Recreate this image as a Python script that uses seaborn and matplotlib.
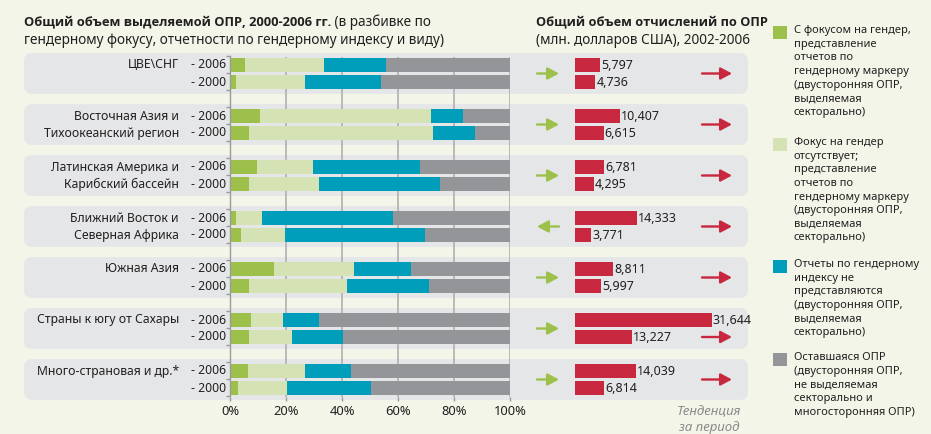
import numpy as np
import pandas as pd
import seaborn as sns
import matplotlib.pyplot as plt
from matplotlib.patches import FancyBboxPatch, Rectangle

sns.set_style("white")
plt.rcParams["font.family"] = ["Noto Sans", "DejaVu Sans"]
BOLD_FAMILY = ["Open Sans", "Noto Sans", "DejaVu Sans"]

# ---- data -------------------------------------------------------------
region_line1 = ["ЦВЕ\\СНГ", "Восточная Азия и", "Латинская Америка и",
                "Ближний Восток и", "Южная Азия", "Страны к югу от Сахары",
                "Много-страновая и др.*"]
region_line2 = ["", "Тихоокеанский регион", "Карибский бассейн",
                "Северная Африка", "", "", ""]
years = ["2006", "2000"]

# shares of allocable ODA, % (gender focus / no focus / not reported)
gender_focus_2006 = [5.2, 10.7, 9.8, 2.0, 15.7, 7.6, 6.3]
gender_focus_2000 = [2.0, 6.7, 6.7, 3.8, 6.9, 6.9, 2.7]
no_focus_2006 = [28.5, 61.1, 19.7, 9.4, 28.5, 11.4, 20.5]
no_focus_2000 = [24.7, 65.9, 25.2, 15.8, 34.9, 15.4, 17.5]
not_reported_2006 = [21.9, 11.5, 38.4, 46.7, 20.3, 12.9, 16.4]
not_reported_2000 = [27.1, 15.0, 43.0, 50.0, 29.4, 18.2, 30.0]

# total ODA disbursements, USD mn
totals_2006 = [5797, 10407, 6781, 14333, 8811, 31644, 14039]
totals_2000 = [4736, 6615, 4295, 3771, 5997, 13227, 6814]

pct_ticks = [0, 20, 40, 60, 80, 100]
pct_tick_labels = ["0%", "20%", "40%", "60%", "80%", "100%"]

legend_labels = [
    "С фокусом на гендер,\nпредставление\nотчетов по\nгендерному маркеру\n(двусторонняя ОПР,\nвыделяемая\nсекторально)",
    "Фокус на гендер\nотсутствует;\nпредставление\nотчетов по\nгендерному маркеру\n(двусторонняя ОПР,\nвыделяемая\nсекторально)",
    "Отчеты по гендерному\nиндексу не\nпредставляются\n(двусторонняя ОПР,\nвыделяемая\nсекторально)",
    "Оставшаяся ОПР\n(двусторонняя ОПР,\nне выделяемая\nсекторально и\nмногосторонняя ОПР)",
]

# ---- style ------------------------------------------------------------
BG = "#f3f5e9"
PANEL = "#e5e6e8"
GREEN = "#9dc04a"
LIGHT = "#d5e3b4"
TEAL = "#009eba"
GRAY = "#939598"
RED = "#c8283f"
TXT = "#231f20"
seg_colors = [GREEN, LIGHT, TEAL, GRAY]
LABEL_FS = 8.8

W, H = 931, 434
ROW0, ROW_PX = 65, 17          # pixel y of first bar row, row pitch
X0_PCT, X1_PCT = 230, 510      # pixel x of 0% and 100%
XR0, XR_W, XR_MAX = 575, 173, 40000


def row_px(pos):
    return ROW0 + ROW_PX * pos


# ---- long table -------------------------------------------------------
records = []
for i in range(len(region_line1)):
    per_year = [
        (gender_focus_2006[i], no_focus_2006[i], not_reported_2006[i], totals_2006[i]),
        (gender_focus_2000[i], no_focus_2000[i], not_reported_2000[i], totals_2000[i]),
    ]
    for j, (g, n, r, t) in enumerate(per_year):
        records.append(dict(region=i, year=years[j], pos=3 * i + j,
                            gender=g, nofocus=n, noreport=r,
                            remaining=100 - g - n - r, total=t))
df = pd.DataFrame(records)
df["c1"] = df["gender"]
df["c2"] = df["c1"] + df["nofocus"]
df["c3"] = df["c2"] + df["noreport"]
df["c4"] = df["c3"] + df["remaining"]

# ---- figure -----------------------------------------------------------
fig = plt.figure(figsize=(W / 100, H / 100), dpi=100, facecolor=BG)
bg = fig.add_axes([0, 0, 1, 1], zorder=0)
bg.set_xlim(0, W)
bg.set_ylim(H, 0)
bg.axis("off")

n_groups = len(region_line1)
ymin_row, ymax_row = -0.5, 3 * n_groups - 1.5
ax_bottom = 1 - row_px(ymax_row) / H
ax_height = (row_px(ymax_row) - row_px(ymin_row)) / H

# group panels
for i in range(n_groups):
    top = row_px(3 * i - 0.7)
    bottom = row_px(3 * i + 1.7)
    bg.add_patch(FancyBboxPatch((24, top), 724, bottom - top,
                                boxstyle="round,pad=0,rounding_size=8",
                                fc=PANEL, ec="none"))

# stacked percentage bars
axL = fig.add_axes([X0_PCT / W, ax_bottom, (X1_PCT - X0_PCT) / W, ax_height], zorder=2)
axL.set_facecolor("none")
for col, c in zip(["c4", "c3", "c2", "c1"], seg_colors[::-1]):
    sns.barplot(data=df, x=col, y="pos", orient="h", native_scale=True,
                color=c, saturation=1, width=14 / 17, errorbar=None,
                linewidth=0, ax=axL)
axL.set_xlim(0, 100)
axL.set_ylim(ymax_row, ymin_row)
axL.set_xlabel("")
axL.set_ylabel("")
axL.set_xticks(pct_ticks, pct_tick_labels)
axL.set_yticks(np.arange(ymin_row, ymax_row + 0.01, 1))
axL.set_yticklabels([])
axL.xaxis.grid(True, color="#b4b4b4", lw=1.3)
axL.yaxis.grid(False)
axL.set_axisbelow(True)
for s in ["top", "right", "bottom"]:
    axL.spines[s].set_visible(False)
axL.spines["left"].set_color("#9a9a9a")
axL.spines["left"].set_linewidth(1.0)
axL.tick_params(axis="y", length=3, color="#9a9a9a", width=1, left=True)
axL.tick_params(axis="x", length=3, color="#9a9a9a", width=1, bottom=True,
                labelsize=9.3, labelcolor=TXT, pad=3)

# total disbursement bars
axR = fig.add_axes([XR0 / W, ax_bottom, XR_W / W, ax_height], zorder=2)
axR.set_facecolor("none")
sns.barplot(data=df, x="total", y="pos", orient="h", native_scale=True,
            color=RED, saturation=1, width=14 / 17, errorbar=None,
            linewidth=0, ax=axR)
axR.set_xlim(0, XR_MAX)
axR.set_ylim(ymax_row, ymin_row)
axR.axis("off")
for _, r in df.iterrows():
    axR.text(r["total"] + 250, r["pos"] + 0.03, f"{int(r['total']):,}",
             ha="left", va="center", fontsize=LABEL_FS + 0.2, color=TXT)

# region / year labels
for i in range(n_groups):
    y6, y0 = row_px(3 * i), row_px(3 * i + 1)
    bg.text(179, y6, region_line1[i], ha="right", va="center", fontsize=LABEL_FS, color=TXT)
    if region_line2[i]:
        bg.text(179, y0, region_line2[i], ha="right", va="center", fontsize=LABEL_FS, color=TXT)
    bg.text(226, y6, "- " + years[0], ha="right", va="center", fontsize=LABEL_FS, color=TXT)
    bg.text(226, y0, "- " + years[1], ha="right", va="center", fontsize=LABEL_FS, color=TXT)

# trend arrows
arrow_kw = dict(arrowstyle="-|>,head_length=0.75,head_width=0.4", lw=1.7,
                shrinkA=0, shrinkB=0, mutation_scale=9)
for i in range(n_groups):
    yc = row_px(3 * i + 0.5)
    g_up = gender_focus_2006[i] >= gender_focus_2000[i]
    x0, x1 = (537, 559) if g_up else (559, 537)
    bg.annotate("", xy=(x1, yc), xytext=(x0, yc),
                arrowprops=dict(color=GREEN, **arrow_kw))
    t_up = totals_2006[i] >= totals_2000[i]
    x0, x1 = (702, 732) if t_up else (732, 702)
    label_end = XR0 + totals_2006[i] * XR_W / XR_MAX + 45
    y_arrow = yc if label_end < 700 else row_px(3 * i + 1)
    bg.annotate("", xy=(x1, y_arrow), xytext=(x0, y_arrow),
                arrowprops=dict(color=RED, **arrow_kw))

# titles
t1 = bg.text(24, 22, "Общий объем выделяемой ОПР, 2000-2006 гг.", ha="left",
             va="center", fontsize=9.3, fontweight="bold", family=BOLD_FAMILY,
             color=TXT)
bg.annotate(" (в разбивке по", xy=(1, 0.5), xycoords=t1, ha="left", va="center",
            fontsize=9.8, color=TXT)
bg.text(24, 40, "гендерному фокусу, отчетности по гендерному индексу и виду)",
        ha="left", va="center", fontsize=9.8, color=TXT)
bg.text(536, 22, "Общий объем отчислений по ОПР", ha="left", va="center",
        fontsize=9.2, fontweight="bold", family=BOLD_FAMILY, color=TXT)
bg.text(536, 40, "(млн. долларов США), 2002-2006", ha="left", va="center",
        fontsize=9.8, color=TXT)

bg.text(709, 420, "Тенденция\nза период", ha="center", va="center",
        fontsize=9.5, style="italic", color="#8a8a8a", linespacing=1.3)

# legend
legend_tops = [26, 138, 260, 353]
for c, lab, top in zip(seg_colors, legend_labels, legend_tops):
    bg.add_patch(Rectangle((773, top), 14, 13, fc=c, ec="none"))
    bg.text(794, top - 1, lab, ha="left", va="top", fontsize=8.0,
            color=TXT, linespacing=1.33)

fig.savefig("out.png", dpi=100, facecolor=BG)
